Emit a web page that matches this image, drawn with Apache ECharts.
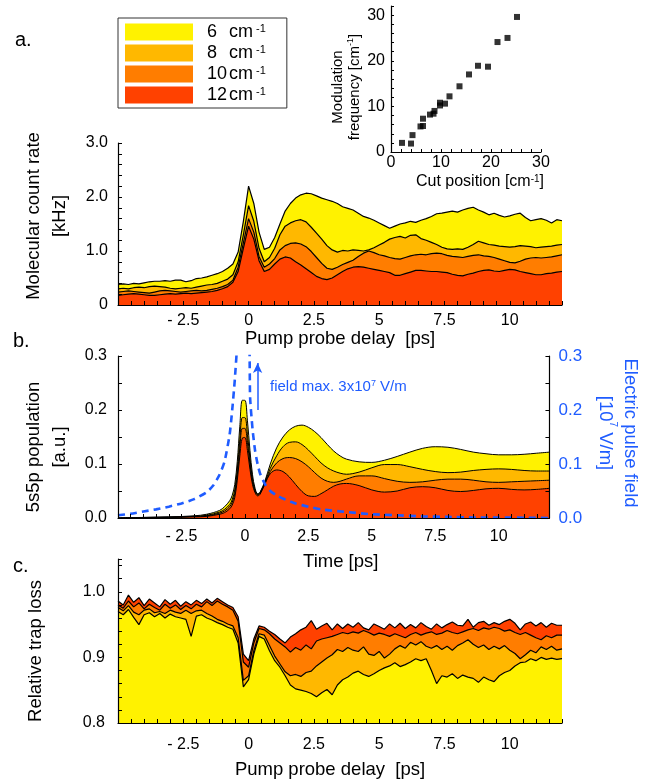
<!DOCTYPE html>
<html><head><meta charset="utf-8">
<script src="https://cdn.jsdelivr.net/npm/echarts@6/dist/echarts.min.js"></script>
<style>html,body{margin:0;padding:0;background:#fff}#c{width:651px;height:783px}</style>
</head><body><div id="c"></div>
<script>
const FONT = '"Liberation Sans", Arial, Helvetica, sans-serif';
const BLUE = '#1f5cff';
const cutNames = ['6', '8', '10', '12'];
const fillColors = ['#FFF200', '#FFB800', '#FF7D00', '#FF4100'];

// ---- panel a : molecular count rate [kHz] ----
const tA = [-5,-4.8,-4.6,-4.4,-4.2,-4,-3.8,-3.6,-3.4,-3.2,-3,-2.8,-2.6,-2.4,-2.2,-2,-1.8,-1.6,-1.4,-1.2,
  -1,-0.8,-0.6,-0.4,-0.2,0,0.2,0.4,0.6,0.8,1,1.2,1.4,1.6,1.8,2,2.2,2.4,2.6,2.8,
  3,3.2,3.4,3.6,3.8,4,4.2,4.4,4.6,4.8,5,5.2,5.4,5.6,5.8,6,6.2,6.4,6.6,6.8,
  7,7.2,7.4,7.6,7.8,8,8.2,8.4,8.6,8.8,9,9.2,9.4,9.6,9.8,10,10.2,10.4,10.6,10.8,
  11,11.2,11.4,11.6,11.8,12];
const a6 = [0.38,0.39,0.38,0.40,0.39,0.41,0.43,0.44,0.44,0.45,
  0.44,0.46,0.46,0.43,0.45,0.49,0.50,0.52,0.55,0.58,
  0.62,0.68,0.76,0.98,1.55,2.20,1.88,1.35,1.03,1.07,
  1.25,1.50,1.74,1.88,1.98,2.04,2.07,2.06,2.02,1.98,
  1.95,1.92,1.88,1.82,1.79,1.76,1.70,1.64,1.61,1.57,
  1.52,1.47,1.42,1.46,1.50,1.52,1.55,1.53,1.57,1.60,
  1.64,1.69,1.70,1.72,1.74,1.72,1.76,1.79,1.81,1.76,
  1.72,1.67,1.70,1.66,1.63,1.65,1.68,1.70,1.62,1.56,
  1.58,1.60,1.57,1.52,1.58,1.56];
const a8 = [0.30,0.31,0.30,0.32,0.33,0.32,0.34,0.35,0.34,0.33,
  0.31,0.30,0.31,0.32,0.31,0.33,0.35,0.37,0.38,0.40,
  0.44,0.48,0.56,0.80,1.30,1.84,1.55,1.05,0.80,0.88,
  1.05,1.30,1.46,1.52,1.56,1.58,1.54,1.44,1.33,1.22,
  1.10,1.02,0.98,1.01,1.00,1.02,1.01,1.00,1.02,1.06,
  1.11,1.16,1.22,1.25,1.27,1.24,1.29,1.30,1.23,1.20,
  1.16,1.12,1.07,1.04,1.03,1.04,1.03,1.07,1.12,1.18,
  1.15,1.12,1.11,1.09,1.08,1.07,1.08,1.10,1.09,1.08,
  1.06,1.07,1.08,1.09,1.11,1.12];
const a10 = [0.24,0.25,0.26,0.25,0.24,0.23,0.22,0.24,0.26,0.27,
  0.26,0.25,0.24,0.25,0.26,0.27,0.26,0.27,0.29,0.31,
  0.34,0.38,0.46,0.70,1.15,1.60,1.35,0.90,0.70,0.76,
  0.86,1.02,1.10,1.14,1.15,1.13,1.08,0.99,0.88,0.77,
  0.68,0.66,0.70,0.75,0.79,0.83,0.90,0.96,1.00,0.97,
  0.93,0.91,0.88,0.86,0.85,0.88,0.91,0.93,0.94,0.93,
  0.95,0.96,0.95,0.92,0.90,0.89,0.88,0.90,0.92,0.93,
  0.91,0.90,0.88,0.85,0.82,0.79,0.78,0.81,0.85,0.87,
  0.88,0.87,0.88,0.89,0.91,0.93];
const a12 = [0.18,0.19,0.20,0.21,0.20,0.19,0.18,0.18,0.19,0.20,
  0.21,0.20,0.21,0.22,0.21,0.22,0.23,0.24,0.25,0.27,
  0.30,0.34,0.42,0.62,1.05,1.46,1.22,0.82,0.62,0.66,
  0.76,0.85,0.89,0.87,0.80,0.74,0.67,0.60,0.53,0.49,
  0.47,0.50,0.56,0.62,0.67,0.70,0.71,0.70,0.68,0.66,
  0.64,0.62,0.60,0.55,0.55,0.58,0.61,0.64,0.64,0.63,
  0.62,0.62,0.61,0.60,0.57,0.55,0.54,0.57,0.59,0.62,
  0.64,0.65,0.63,0.62,0.64,0.66,0.65,0.62,0.60,0.58,
  0.56,0.56,0.58,0.59,0.61,0.62];

// ---- panel b : 5s5p population and field ----
const tB = [-5,-4,-3,-2,-1.5,-1,-0.8,-0.6,-0.5,-0.4,
  -0.3,-0.2,-0.1,0,0.1,0.2,0.3,0.4,0.5,0.6,
  0.8,1,1.25,1.5,1.75,2,2.25,2.5,2.75,3,
  3.25,3.5,3.75,4,4.5,5,5.5,6,6.5,7,
  7.5,8,8.5,9,9.5,10,10.5,11,11.5,12];
const b6 = [0.000,0.001,0.002,0.004,0.007,0.014,0.021,0.032,0.042,0.062,
  0.105,0.170,0.218,0.218,0.180,0.125,0.080,0.055,0.045,0.048,
  0.070,0.100,0.130,0.150,0.163,0.170,0.172,0.168,0.160,0.149,
  0.136,0.124,0.115,0.109,0.104,0.103,0.107,0.114,0.122,0.129,
  0.132,0.131,0.127,0.122,0.119,0.117,0.117,0.118,0.120,0.122];
const b8 = [0.000,0.001,0.002,0.003,0.005,0.011,0.016,0.025,0.034,0.052,
  0.090,0.145,0.186,0.186,0.155,0.110,0.072,0.052,0.044,0.047,
  0.068,0.092,0.115,0.132,0.140,0.141,0.136,0.126,0.114,0.102,
  0.093,0.087,0.083,0.081,0.085,0.093,0.099,0.099,0.095,0.090,
  0.086,0.084,0.085,0.088,0.090,0.091,0.090,0.088,0.087,0.087];
const b10 = [0.000,0.001,0.001,0.003,0.004,0.009,0.013,0.021,0.029,0.045,
  0.080,0.130,0.166,0.166,0.140,0.100,0.067,0.050,0.043,0.046,
  0.066,0.086,0.102,0.110,0.112,0.110,0.104,0.095,0.084,0.074,
  0.068,0.066,0.068,0.072,0.078,0.078,0.073,0.068,0.066,0.067,
  0.070,0.072,0.072,0.070,0.067,0.066,0.067,0.068,0.069,0.070];
const b12 = [0.000,0.000,0.001,0.002,0.003,0.007,0.010,0.017,0.024,0.038,
  0.070,0.115,0.148,0.149,0.125,0.090,0.062,0.047,0.041,0.044,
  0.064,0.082,0.089,0.086,0.076,0.062,0.049,0.041,0.040,0.045,
  0.052,0.059,0.063,0.064,0.060,0.052,0.048,0.050,0.056,0.058,
  0.056,0.051,0.049,0.051,0.054,0.055,0.053,0.052,0.053,0.055];
const tF = [-5,-4.5,-4,-3.5,-3,-2.5,-2,-1.5,-1.25,-1,
  -0.8,-0.6,-0.5,-0.4,-0.3,-0.2,-0.1,0,0.1,0.2,
  0.3,0.4,0.5,0.6,0.8,1,1.25,1.5,2,2.5,
  3,4,5,6,7,8,9,10,11,12];
const fieldV = [0.005,0.008,0.012,0.016,0.021,0.027,0.035,0.048,0.060,0.080,
  0.105,0.155,0.200,0.255,0.330,0.700,2.000,3.000,1.000,0.230,
  0.165,0.125,0.100,0.082,0.062,0.050,0.042,0.036,0.027,0.021,
  0.016,0.011,0.007,0.005,0.003,0.002,0.001,0.001,0.0005,0.000];

// ---- panel c : relative trap loss ----
const c12 = [0.986,0.980,0.995,0.984,0.991,0.979,0.989,0.983,0.977,0.988,
  0.981,0.987,0.978,0.985,0.980,0.987,0.982,0.989,0.983,0.990,
  0.985,0.980,0.976,0.962,0.905,0.895,0.928,0.948,0.946,0.940,
  0.935,0.928,0.922,0.931,0.936,0.942,0.946,0.956,0.943,0.948,
  0.952,0.942,0.951,0.944,0.951,0.946,0.953,0.945,0.942,0.951,
  0.947,0.943,0.951,0.945,0.952,0.944,0.950,0.945,0.953,0.947,
  0.943,0.951,0.945,0.950,0.954,0.949,0.948,0.958,0.946,0.953,
  0.955,0.949,0.953,0.950,0.955,0.958,0.952,0.942,0.951,0.954,
  0.948,0.953,0.946,0.952,0.949,0.949];
const c10 = [0.980,0.975,0.986,0.977,0.983,0.974,0.981,0.976,0.972,0.981,
  0.975,0.980,0.973,0.979,0.974,0.981,0.977,0.985,0.979,0.986,
  0.981,0.977,0.972,0.955,0.893,0.885,0.922,0.944,0.942,0.936,
  0.928,0.922,0.916,0.908,0.915,0.911,0.919,0.913,0.925,0.928,
  0.930,0.932,0.935,0.938,0.936,0.939,0.937,0.941,0.938,0.934,
  0.937,0.935,0.932,0.936,0.933,0.930,0.935,0.938,0.934,0.937,
  0.939,0.935,0.937,0.941,0.938,0.936,0.939,0.942,0.944,0.941,
  0.945,0.943,0.946,0.944,0.940,0.942,0.938,0.935,0.938,0.934,
  0.930,0.927,0.933,0.930,0.934,0.934];
const c8 = [0.976,0.971,0.979,0.969,0.965,0.972,0.974,0.968,0.970,0.967,
  0.972,0.969,0.967,0.972,0.967,0.971,0.972,0.967,0.963,0.958,
  0.955,0.951,0.948,0.930,0.865,0.872,0.910,0.936,0.934,0.918,
  0.902,0.890,0.878,0.872,0.874,0.871,0.877,0.879,0.887,0.893,
  0.899,0.904,0.912,0.909,0.915,0.911,0.909,0.916,0.905,0.903,
  0.909,0.899,0.905,0.913,0.918,0.914,0.923,0.919,0.924,0.917,
  0.914,0.918,0.912,0.917,0.911,0.918,0.922,0.927,0.920,0.915,
  0.919,0.912,0.917,0.913,0.918,0.911,0.906,0.898,0.904,0.911,
  0.907,0.916,0.912,0.917,0.911,0.913];
const c6 = [0.970,0.965,0.973,0.961,0.950,0.965,0.968,0.962,0.967,0.960,
  0.966,0.962,0.960,0.958,0.932,0.963,0.965,0.960,0.957,0.953,
  0.950,0.946,0.943,0.922,0.855,0.866,0.905,0.932,0.928,0.910,
  0.895,0.885,0.872,0.858,0.852,0.850,0.848,0.845,0.840,0.846,
  0.851,0.843,0.858,0.866,0.870,0.876,0.879,0.874,0.871,0.875,
  0.880,0.884,0.887,0.892,0.886,0.889,0.893,0.898,0.895,0.898,
  0.880,0.860,0.872,0.870,0.875,0.868,0.873,0.870,0.868,0.862,
  0.870,0.866,0.863,0.872,0.877,0.880,0.887,0.892,0.893,0.898,
  0.895,0.900,0.897,0.899,0.897,0.898];

// ---- inset ----
const cutPos  = [2.2,4.0,4.3,5.9,6.4,6.4,7.8,8.5,8.7,9.8,9.8,10.8,11.7,13.7,15.6,17.4,19.4,21.3,23.3,25.2];
const modFreq = [2.0,1.85,3.7,5.6,5.7,7.3,8.2,8.4,9.0,10.2,10.8,10.6,12.2,14.4,17.0,18.9,18.7,24.1,25.0,29.6];

// ---------- helpers ----------
const near = (v, step) => Math.abs(v / step - Math.round(v / step)) < 1e-6;
const fmtT = v => (v <= -5 || v >= 12 || !near(v, 2.5)) ? '' : (v < 0 ? '- ' + (-v) : String(v));
const fmtA = v => !near(v, 1) ? '' : (Math.round(v) === 0 ? '0' : v.toFixed(1));
const fmt01 = v => !near(v, 0.1) ? '' : v.toFixed(1);
const fmt10 = v => !near(v, 10) ? '' : String(Math.round(v));
const pairs = (t, v) => t.map((x, i) => [x, v[i]]);

const axLine = {show: true, onZero: false, lineStyle: {color: '#000', width: 1.2}};
const axTick = {show: true, inside: true, length: 4, lineStyle: {color: '#000', width: 1}};
const NAMEFS = 18.5;

function xAx(grid, margin, name, nameGap, pad) {
  return {gridIndex: grid, type: 'value', min: -5, max: 12, interval: 0.5, z: 10,
    axisLine: axLine, axisTick: axTick, splitLine: {show: false},
    axisLabel: {formatter: fmtT, color: '#000', fontSize: 16, margin: margin, fontFamily: FONT},
    name: name, nameLocation: 'middle', nameGap: nameGap,
    nameTextStyle: {fontSize: NAMEFS, color: '#000', fontFamily: FONT, padding: pad}};
}

const series = [];
const aVals = [a6, a8, a10, a12];
aVals.forEach((v, k) => series.push({
  type: 'line', name: cutNames[k], xAxisIndex: 0, yAxisIndex: 0, data: pairs(tA, v),
  symbol: 'none', lineStyle: {color: '#000', width: 1.2}, itemStyle: {color: fillColors[k]},
  areaStyle: {color: fillColors[k], opacity: 1, origin: 'start'}, silent: true
}));
const bVals = [b6, b8, b10, b12];
bVals.forEach((v, k) => series.push({
  type: 'line', name: cutNames[k], xAxisIndex: 1, yAxisIndex: 1, data: pairs(tB, v),
  symbol: 'none', smooth: 0.35, lineStyle: {color: '#000', width: 1}, itemStyle: {color: fillColors[k]},
  areaStyle: {color: fillColors[k], opacity: 1, origin: 'start'}, silent: true
}));
series.push({
  type: 'line', name: 'field', xAxisIndex: 1, yAxisIndex: 2, data: pairs(tF, fieldV),
  symbol: 'none', smooth: 0.2, z: 5, clip: true, silent: true,
  lineStyle: {color: BLUE, width: 2.6, type: [7, 5]}, itemStyle: {color: BLUE},
  markLine: {silent: true, symbol: ['none', 'arrow'], symbolSize: [7, 10], animation: false,
    lineStyle: {color: BLUE, width: 1.5, type: 'solid'}, label: {show: false},
    data: [[{coord: [0.5, 0.2]}, {coord: [0.5, 0.287]}]]}
});
const cVals = [c12, c10, c8, c6];
const cIdx = [3, 2, 1, 0];
cVals.forEach((v, j) => { const k = cIdx[j]; series.push({
  type: 'line', name: cutNames[k], xAxisIndex: 2, yAxisIndex: 3, data: pairs(tA, v),
  symbol: 'none', lineStyle: {color: '#000', width: 1.2}, itemStyle: {color: fillColors[k]},
  areaStyle: {color: fillColors[k], opacity: 1, origin: 'start'}, silent: true
}); });
series.push({type: 'scatter', name: 'inset', xAxisIndex: 3, yAxisIndex: 4,
  data: pairs(cutPos, modFreq), symbol: 'rect', symbolSize: 6, itemStyle: {color: '#000'}, silent: true});

const option = {
  animation: false,
  textStyle: {fontFamily: FONT},
  grid: [
    {left: 118, top: 143, width: 444, height: 162},
    {left: 118, top: 356, width: 441, height: 162},
    {left: 118, top: 559, width: 444, height: 164},
    {left: 391, top: 6, width: 150, height: 146}
  ],
  legend: {
    orient: 'vertical', left: 118, top: 18, itemWidth: 68, itemHeight: 17, itemGap: 3,
    padding: [5, 21, 4, 7], borderColor: '#333', borderWidth: 1, selectedMode: false,
    icon: 'rect', itemStyle: {borderWidth: 0},
    data: cutNames.map((n, k) => ({name: n, icon: 'rect', itemStyle: {color: fillColors[k], borderWidth: 0}})),
    formatter: n => '{n|' + n + '}{c|cm}{s| -1}',
    textStyle: {color: '#000', fontSize: 18, lineHeight: 17, rich: {
      n: {fontSize: 18, lineHeight: 17, width: 22, padding: [0, 0, 0, 9], fontFamily: FONT},
      c: {fontSize: 18, lineHeight: 17, fontFamily: FONT},
      s: {fontSize: 11, lineHeight: 11, verticalAlign: 'top', fontFamily: FONT}}}
  },
  xAxis: [
    xAx(0, 8, 'Pump probe delay  [ps]', 24, [0, 0, 0, 0]),
    xAx(1, 11, 'Time [ps]', 34, [0, 0, 0, 14]),
    xAx(2, 14, 'Pump probe delay  [ps]', 37, [0, 20, 0, 0]),
    {gridIndex: 3, type: 'value', min: 0, max: 30, interval: 2, z: 10,
      axisLine: axLine, axisTick: {show: true, inside: true, length: 3, lineStyle: {color: '#000'}},
      splitLine: {show: false},
      axisLabel: {formatter: fmt10, color: '#000', fontSize: 16, margin: 3, fontFamily: FONT},
      name: '{t|Cut position [cm}{s|-1}{t|]}', nameLocation: 'middle', nameGap: 22,
      nameTextStyle: {color: '#000', padding: [0, 0, 0, 28], rich: {
        t: {fontSize: 16, fontFamily: FONT},
        s: {fontSize: 10, verticalAlign: 'top', fontFamily: FONT}}}}
  ],
  yAxis: [
    {gridIndex: 0, type: 'value', min: 0, max: 3, interval: 0.2, z: 10,
      axisLine: axLine, axisTick: axTick, splitLine: {show: false},
      axisLabel: {formatter: fmtA, color: '#000', fontSize: 16, margin: 10, fontFamily: FONT},
      name: 'Molecular count rate\n[kHz]', nameLocation: 'middle', nameGap: 45,
      nameTextStyle: {fontSize: NAMEFS, color: '#000', lineHeight: 26, fontFamily: FONT, padding: [0, 0, 0, 16]}},
    {gridIndex: 1, type: 'value', min: 0, max: 0.3, interval: 0.05, z: 10,
      axisLine: axLine, axisTick: axTick, splitLine: {show: false},
      axisLabel: {formatter: fmt01, color: '#000', fontSize: 16, margin: 11, fontFamily: FONT},
      name: '5s5p population\n[a.u.]', nameLocation: 'middle', nameGap: 45,
      nameTextStyle: {fontSize: NAMEFS, color: '#000', lineHeight: 26, fontFamily: FONT, padding: [0, 20, 0, 0]}},
    {gridIndex: 1, type: 'value', position: 'right', min: 0, max: 0.3, interval: 0.05, z: 10,
      axisLine: axLine, axisTick: axTick, splitLine: {show: false},
      axisLabel: {formatter: fmt01, color: BLUE, fontSize: 17, margin: 9, fontFamily: FONT},
      name: '{t|Electric pulse field}\n{t|[10}{s|7}{t| V/m]}', nameLocation: 'middle', nameGap: 38, nameRotate: -90,
      nameTextStyle: {color: BLUE, lineHeight: 25, padding: [0, 8, 0, 0], rich: {
        t: {fontSize: NAMEFS, color: BLUE, lineHeight: 25, fontFamily: FONT},
        s: {fontSize: 10, color: BLUE, verticalAlign: 'top', lineHeight: 12, fontFamily: FONT}}}},
    {gridIndex: 2, type: 'value', min: 0.8, max: 1.05, interval: 0.02, z: 10,
      axisLine: axLine, axisTick: axTick, splitLine: {show: false},
      axisLabel: {formatter: fmt01, color: '#000', fontSize: 16, margin: 13, fontFamily: FONT},
      name: 'Relative trap loss', nameLocation: 'middle', nameGap: 73,
      nameTextStyle: {fontSize: NAMEFS, color: '#000', fontFamily: FONT, padding: [0, 20, 0, 0]}},
    {gridIndex: 3, type: 'value', min: 0, max: 32, interval: 2, z: 10,
      axisLine: axLine, axisTick: {show: true, inside: true, length: 3, lineStyle: {color: '#000'}},
      splitLine: {show: false},
      axisLabel: {formatter: fmt10, color: '#000', fontSize: 16, margin: 6, fontFamily: FONT},
      name: '{t|Modulation}\n{t|frequency [cm}{s|-1}{t|]}', nameLocation: 'middle', nameGap: 27,
      nameTextStyle: {color: '#000', lineHeight: 17, padding: [0, 16, 0, 0], rich: {
        t: {fontSize: 15, lineHeight: 17, fontFamily: FONT},
        s: {fontSize: 9, lineHeight: 10, verticalAlign: 'top', fontFamily: FONT}}}}
  ],
  graphic: [
    {type: 'text', x: 15, y: 40.5, style: {text: 'a.', font: '20px ' + FONT, fill: '#000', verticalAlign: 'middle'}},
    {type: 'text', x: 13, y: 341.5, style: {text: 'b.', font: '20px ' + FONT, fill: '#000', verticalAlign: 'middle'}},
    {type: 'text', x: 13, y: 566.5, style: {text: 'c.', font: '20px ' + FONT, fill: '#000', verticalAlign: 'middle'}},
    {type: 'text', x: 270, y: 387, z: 20, style: {text: '{a|field max. 3x10}{s|7}{a| V/m}', verticalAlign: 'middle',
      rich: {a: {fontSize: 15, fill: BLUE, fontFamily: FONT, lineHeight: 16},
             s: {fontSize: 9, fill: BLUE, fontFamily: FONT, verticalAlign: 'top', lineHeight: 9}}}}
  ],
  series: series
};
const chart = echarts.init(document.getElementById('c'), null, {renderer: 'canvas'});
chart.setOption(option);
</script></body></html>
